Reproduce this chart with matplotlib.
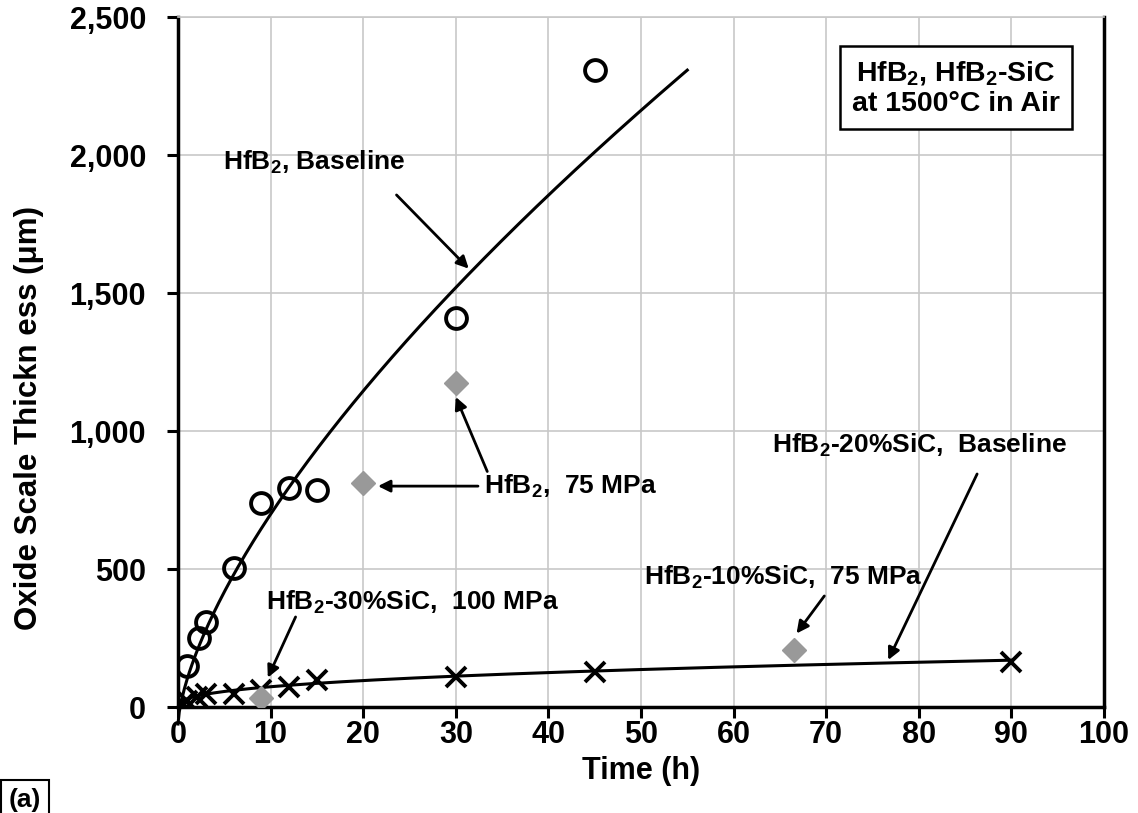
import numpy as np
import matplotlib
matplotlib.use("Agg")
import matplotlib.pyplot as plt
from matplotlib.ticker import FuncFormatter

plt.rcParams['font.family'] = ['Liberation Sans', 'DejaVu Sans']
plt.rcParams['font.weight'] = 'bold'
plt.rcParams['mathtext.fontset'] = 'custom'
plt.rcParams['mathtext.rm'] = 'Liberation Sans:bold'
plt.rcParams['mathtext.it'] = 'Liberation Sans:bold'
plt.rcParams['mathtext.bf'] = 'Liberation Sans:bold'

# ---- data ----
hfb2_base_t = [1, 2.3, 3, 6, 9, 12, 15, 30, 45]
hfb2_base_y = [150, 250, 310, 504, 740, 795, 788, 1410, 2310]

sic20_base_t = [0.5, 1, 2, 3, 6, 9, 12, 15, 30, 45, 90]
sic20_base_y = [12, 25, 38, 50, 50, 62, 75, 100, 112, 130, 165]

stressed_t = [9, 20, 30, 66.5]
stressed_y = [35, 815, 1175, 210]

# trend curves (parameters)
hfb2_fit = dict(a=163.6, n=0.667, c=-60.0, t_end=55.0)
sic_fit = dict(a=31.7, n=0.375, t_start=0.5, t_end=90.0)

x_ticks = list(range(0, 101, 10))
y_ticks = list(range(0, 2501, 500))

fig = plt.figure(figsize=(11.38, 8.13), dpi=100)
ax = fig.add_axes([0.1564, 0.1298, 0.8137, 0.8487])

ax.set_xlim(0, 100)
ax.set_ylim(0, 2500)
ax.set_xticks(x_ticks)
ax.set_yticks(y_ticks)
ax.yaxis.set_major_formatter(FuncFormatter(lambda v, p: f"{int(v):,}"))
ax.grid(True, color='#c8c8c8', lw=1.2)
ax.set_axisbelow(True)

for s in ['left', 'bottom', 'right']:
    ax.spines[s].set_linewidth(2.5)
    ax.spines[s].set_color('black')
ax.spines['top'].set_color('#c8c8c8')
ax.spines['top'].set_linewidth(1.2)

ax.tick_params(axis='both', direction='out', length=8, width=2.2, labelsize=22)
ax.tick_params(axis='x', pad=1)
ax.tick_params(axis='y', pad=15, right=False)
for lbl in ax.get_xticklabels() + ax.get_yticklabels():
    lbl.set_fontweight('bold')

# trend curves
t1 = np.linspace(0, hfb2_fit['t_end'], 400)
y1 = hfb2_fit['a'] * t1 ** hfb2_fit['n'] + hfb2_fit['c']
ax.plot(t1, y1, color='black', lw=2.2, clip_on=False, zorder=3)

t2 = np.linspace(sic_fit['t_start'], sic_fit['t_end'], 400)
y2 = sic_fit['a'] * t2 ** sic_fit['n']
ax.plot(t2, y2, color='black', lw=2.2, zorder=3)

# data markers
ax.plot(hfb2_base_t, hfb2_base_y, 'o', ms=15, mfc='none', mec='black', mew=2.8, zorder=4)
ax.plot(sic20_base_t, sic20_base_y, 'x', ms=14, mec='black', mew=2.8, zorder=4)
ax.plot(stressed_t, stressed_y, 'D', ms=12, mfc='#999999', mec='#999999', zorder=5)

fs = 19
ap = dict(arrowstyle='-|>', lw=2.0, color='black', mutation_scale=18, shrinkA=0, shrinkB=0)

ax.text(4.9, 1975, r"HfB$_2$, Baseline", fontsize=fs, fontweight='bold', va='center', ha='left')
ax.annotate("", xy=(31.4, 1590), xytext=(23.6, 1857), arrowprops=ap)

ax.text(33.0, 802, r"HfB$_2$,  75 MPa", fontsize=fs, fontweight='bold', va='center', ha='left')
ax.annotate("", xy=(21.6, 802), xytext=(32.4, 802), arrowprops=ap)
ax.annotate("", xy=(30.0, 1125), xytext=(33.4, 855), arrowprops=ap)

ax.text(64.2, 948, r"HfB$_2$-20%SiC,  Baseline", fontsize=fs, fontweight='bold', va='center', ha='left')
ax.annotate("", xy=(76.7, 172), xytext=(86.3, 846), arrowprops=ap)

ax.text(50.3, 473, r"HfB$_2$-10%SiC,  75 MPa", fontsize=fs, fontweight='bold', va='center', ha='left')
ax.annotate("", xy=(66.8, 268), xytext=(69.8, 404), arrowprops=ap)

ax.text(9.5, 382, r"HfB$_2$-30%SiC,  100 MPa", fontsize=fs, fontweight='bold', va='center', ha='left')
ax.annotate("", xy=(9.7, 108), xytext=(12.7, 328), arrowprops=ap)

ax.text(84.0, 2245, "HfB$_2$, HfB$_2$-SiC\nat 1500°C in Air", fontsize=20.5, fontweight='bold',
        va='center', ha='center', linespacing=1.2,
        bbox=dict(boxstyle='square,pad=0.42', fc='white', ec='black', lw=1.8))

ax.set_xlabel("Time (h)", fontsize=22, fontweight='bold', labelpad=4)
ax.set_ylabel("Oxide Scale Thickn ess (μm)", fontsize=22.5, fontweight='bold')
ax.yaxis.set_label_coords(-0.145, 0.42)

fig.text(0.008, 0.031, "(a)", fontsize=19, fontweight='bold', va='top', ha='left',
         bbox=dict(boxstyle='square,pad=0.3', fc='white', ec='black', lw=1.5))

fig.savefig("out.png", dpi=100)
